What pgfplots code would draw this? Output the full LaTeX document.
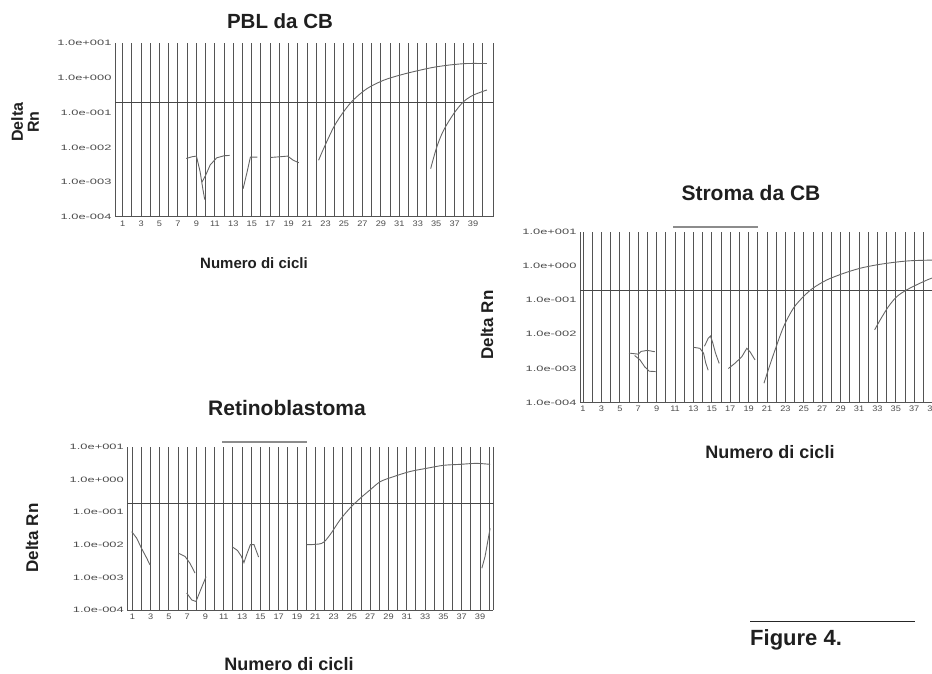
\documentclass[border=0pt]{standalone}
\usepackage{fontspec}
\setmainfont{Liberation Sans}
\newfontfamily\ytickfont[FakeStretch=1.65]{Liberation Sans}
\newfontfamily\xtickfont[FakeStretch=1.15]{Liberation Sans}
\usepackage{pgfplots}
\pgfplotsset{compat=1.18}

\definecolor{gridc}{gray}{0.33}
\definecolor{curve}{gray}{0.40}
\definecolor{txt}{gray}{0.12}

\tikzset{
  cv/.style={curve, line width=0.9pt, mark=none, solid},
  thr/.style={black!72, line width=1pt, mark=none, solid},
}

\pgfplotsset{every axis/.append style={
    scale only axis,
    ymode=log, ymin=1e-4, ymax=10,
    axis x line*=bottom, axis y line*=box,
    axis line style={gridc, line width=1pt},
    xtick={1,3,...,39}, minor xtick={2,4,...,40},
    xticklabels={1,3,5,7,9,11,13,15,17,19,21,23,25,27,29,31,33,35,37,39},
    xmajorgrids=true, xminorgrids=true,
    major grid style={gridc, line width=1pt},
    minor grid style={gridc, line width=1pt},
    major tick length=0pt, minor tick length=0pt,
    ytick={1e-4,1e-3,1e-2,1e-1,1,10},
    yticklabels={1.0e-004,1.0e-003,1.0e-002,1.0e-001,1.0e+000,1.0e+001},
    yticklabel style={font=\ytickfont\fontsize{7.8}{8}\selectfont, text=black!70},
    xticklabel style={font=\xtickfont\fontsize{8}{8}\selectfont, text=black!70},
  },
}

\begin{document}
\begin{tikzpicture}[x=1pt, y=1pt]
\useasboundingbox (0,0) rectangle (932,673);
\clip (0,0) rectangle (932,673);

% ---------------- PBL da CB ----------------
\begin{axis}[at={(115pt,456pt)}, anchor=south west,
  width=378pt, height=174pt, xmin=0.17, xmax=41.16]
\addplot[thr] coordinates {(0,0.195) (42,0.195)};
\addplot[cv] coordinates {(7.9,0.00479) (8.5,0.00537) (9.0,0.00562) (9.4,0.0020) (9.7,0.00063) (9.9,0.000316)};
\addplot[cv] coordinates {(9.6,0.0010) (10.0,0.00158) (10.5,0.00316) (11.2,0.00501) (12.0,0.00575) (12.6,0.00589)};
\addplot[cv] coordinates {(14.06,0.000646) (14.5,0.0020) (14.85,0.00525) (15.6,0.00525)};
\addplot[cv] coordinates {(17.0,0.00513) (18.0,0.00537) (18.9,0.00562) (19.5,0.00427) (20.1,0.00363)};
\addplot[cv, smooth] coordinates {(22.25,0.00427) (22.8,0.00933) (23.9,0.0389) (24.95,0.105) (26.0,0.229) (27.5,0.490) (29.3,0.851) (31.1,1.20) (32.9,1.58) (34.7,2.00) (36.5,2.34) (38.3,2.57) (40.5,2.57)};
\addplot[cv, smooth] coordinates {(34.4,0.00245) (35.06,0.0102) (35.8,0.0309) (36.9,0.0933) (37.95,0.204) (39.0,0.316) (40.5,0.447)};
\end{axis}

% ---------------- Stroma da CB ----------------
\begin{axis}[at={(580pt,270.3pt)}, anchor=south west,
  width=371pt, height=171pt, xmin=0.67, xmax=41]
\addplot[thr] coordinates {(0,0.197) (42,0.197)};
\addplot[cv] coordinates {(6.0,0.00282) (7.0,0.00263) (7.3,0.00316) (8.0,0.00339) (8.8,0.00309)};
\addplot[cv] coordinates {(6.6,0.0024) (7.2,0.00178) (7.7,0.00112) (8.2,0.000832) (8.9,0.000813)};
\addplot[cv] coordinates {(13.0,0.00417) (13.7,0.00389) (14.1,0.00282) (14.35,0.00141) (14.6,0.000891)};
\addplot[cv] coordinates {(14.2,0.00447) (14.6,0.00759) (14.85,0.00891) (15.1,0.00562) (15.4,0.00282) (15.8,0.00141)};
\addplot[cv] coordinates {(16.8,0.001) (17.5,0.00141) (18.25,0.00219) (18.8,0.00389) (19.15,0.00309) (19.7,0.00178)};
\addplot[cv, smooth] coordinates {(20.67,0.000372) (21.14,0.000912) (21.87,0.00347) (22.8,0.0166) (23.86,0.0575) (24.95,0.126) (26.0,0.224) (27.5,0.389) (29.3,0.603) (31.1,0.851) (32.9,1.07) (34.7,1.26) (36.5,1.41) (38.9,1.48) (40.5,1.51)};
\addplot[cv, smooth] coordinates {(32.7,0.0135) (33.3,0.0263) (34.2,0.0646) (35.1,0.126) (36.2,0.20) (37.6,0.309) (38.9,0.437) (40.5,0.562)};
\end{axis}

% ---------------- Retinoblastoma ----------------
\begin{axis}[at={(127.3pt,63pt)}, anchor=south west,
  width=366pt, height=163.3pt, xmin=0.45, xmax=40.45]
\addplot[thr] coordinates {(0,0.186) (42,0.186)};
\addplot[cv] coordinates {(0.93,0.0251) (1.48,0.0158) (2.0,0.00776) (2.57,0.00389) (2.93,0.0024)};
\addplot[cv] coordinates {(6.03,0.0055) (6.76,0.00437) (7.3,0.00269) (7.85,0.00135)};
\addplot[cv] coordinates {(6.94,0.000331) (7.49,0.000204) (7.96,0.000182) (8.4,0.000372) (9.06,0.00105)};
\addplot[cv] coordinates {(11.9,0.00871) (12.5,0.00661) (12.9,0.00447) (13.2,0.00282) (13.5,0.00501) (13.9,0.01) (14.3,0.01) (14.8,0.00417)};
\addplot[cv, smooth] coordinates {(20.06,0.01) (21.7,0.011) (22.6,0.02) (23.7,0.0575) (24.79,0.132) (25.9,0.263) (27.0,0.479) (28.1,0.851) (29.5,1.20) (31.35,1.74) (33.2,2.19) (35.0,2.69) (36.8,2.88) (38.6,3.09) (40.1,2.88)};
\addplot[cv] coordinates {(39.2,0.00191) (39.55,0.00437) (40.1,0.0316)};
\end{axis}

% titles and axis labels
\begin{scope}[every node/.style={text=txt, inner sep=0pt}]
\node[font=\bfseries\fontsize{20.5}{24}\selectfont] at (280,652) {PBL da CB};
\node[font=\bfseries\fontsize{21}{24}\selectfont] at (751,480) {Stroma da CB};
\node[font=\bfseries\fontsize{21}{24}\selectfont] at (287,265) {Retinoblastoma};
\node[font=\bfseries\fontsize{15}{18}\selectfont] at (254,410) {Numero di cicli};
\node[font=\bfseries\fontsize{18}{21}\selectfont] at (770,221) {Numero di cicli};
\node[font=\bfseries\fontsize{18}{21}\selectfont] at (289,9) {Numero di cicli};
\node[font=\bfseries\fontsize{16}{16}\selectfont, rotate=90, align=center] at (25,551) {Delta\\Rn};
\node[font=\bfseries\fontsize{17}{20}\selectfont, rotate=90] at (487,348) {Delta Rn};
\node[font=\bfseries\fontsize{17}{20}\selectfont, rotate=90] at (32,135) {Delta Rn};
\end{scope}

% stray bars above the two lower panels
\draw[black!45, line width=1.2pt] (673,446) -- (758,446);
\draw[black!45, line width=1.2pt] (222,231) -- (307,231);

% caption
\draw[black!85, line width=1pt] (750,52) -- (915,52);
\node[anchor=base west, inner sep=0pt, text=txt, font=\bfseries\fontsize{22}{24}\selectfont] at (750,28) {Figure 4.};
\end{tikzpicture}
\end{document}
